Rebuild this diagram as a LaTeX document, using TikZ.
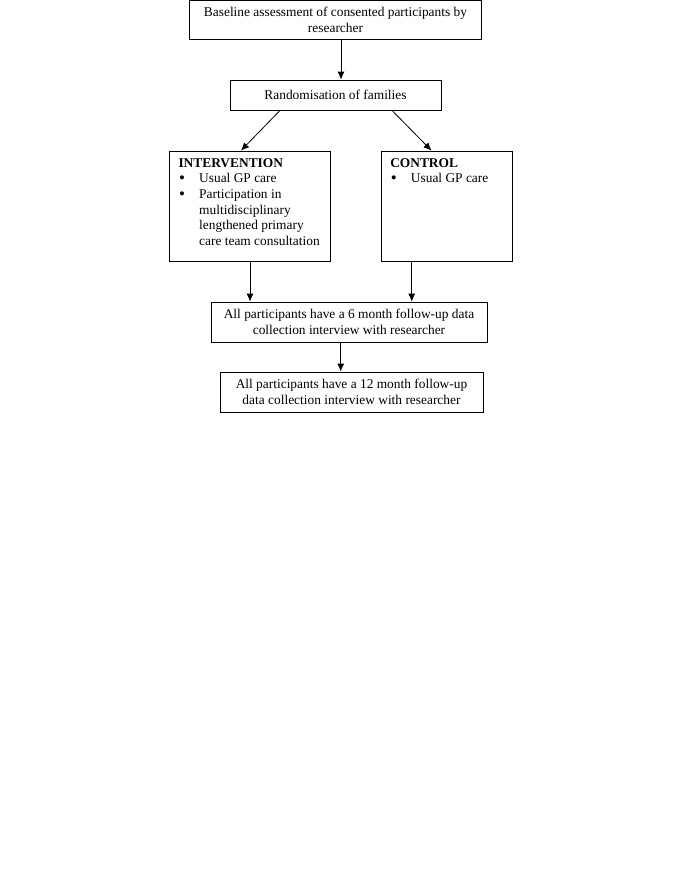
\documentclass[tikz,border=0pt]{standalone}
\usepackage{fontspec}
\setmainfont{Liberation Serif}
\usetikzlibrary{arrows.meta}

\tikzset{
  box/.style={draw, line width=0.8pt, inner sep=0pt, align=center, font=\fontsize{13.4}{15.7}\selectfont},
}
\newcommand{\bul}{\hspace{0.5pt}\raisebox{-0.8pt}{\fontsize{17}{17}\selectfont\textbullet}}

\begin{document}
\begin{tikzpicture}[x=1pt, y=-1pt, >={Latex[length=8pt,width=7pt]}, line width=0.8pt]
\useasboundingbox (0,0) rectangle (685,886);
% flow boxes
\node[box, minimum width=292pt, minimum height=39pt] (base) at (335.5,20) {Baseline assessment of consented participants by\\researcher};
\node[box, minimum width=211pt, minimum height=30pt] (rand) at (335.5,95) {Randomisation of families};
\node[box, minimum width=161pt, minimum height=110pt] (inter) at (250,206) {%
  \begin{minipage}[t][104pt][t]{143pt}\raggedright
  \rule{0pt}{13pt}\textbf{INTERVENTION}\\
  \begin{tabular}[t]{@{}p{20.7pt}@{}l@{}}
  \bul & Usual GP care\\
  \bul & Participation in\\
   & multidisciplinary\\
   & lengthened primary\\
   & care team consultation
  \end{tabular}
  \end{minipage}};
\node[box, minimum width=131.5pt, minimum height=110pt] (ctrl) at (447,206) {%
  \begin{minipage}[t][104pt][t]{113.5pt}\raggedright
  \rule{0pt}{13pt}\textbf{CONTROL}\\
  \begin{tabular}[t]{@{}p{20.7pt}@{}l@{}}
  \bul & Usual GP care
  \end{tabular}
  \end{minipage}};
\node[box, minimum width=276pt, minimum height=40pt] (six) at (349,322) {All participants have a 6 month follow-up data\\collection interview with researcher};
\node[box, minimum width=263pt, minimum height=40pt] (twelve) at (351.5,392) {All participants have a 12 month follow-up\\data collection interview with researcher};
% arrows
\draw[->] ([xshift=5.5pt]base.south) -- ([xshift=5.5pt]rand.north);
\draw[->] ([xshift=-55.5pt]rand.south) -- ([xshift=-9pt]inter.north);
\draw[->] ([xshift=56.5pt]rand.south) -- ([xshift=-15.5pt]ctrl.north);
\draw[->] (inter.south) -- (six.north -| inter.south);
\draw[->] ([xshift=-35.3pt]ctrl.south) -- ([xshift=62.7pt]six.north);
\draw[->] ([xshift=-8.3pt]six.south) -- ([xshift=-10.8pt]twelve.north);
\end{tikzpicture}
\end{document}
